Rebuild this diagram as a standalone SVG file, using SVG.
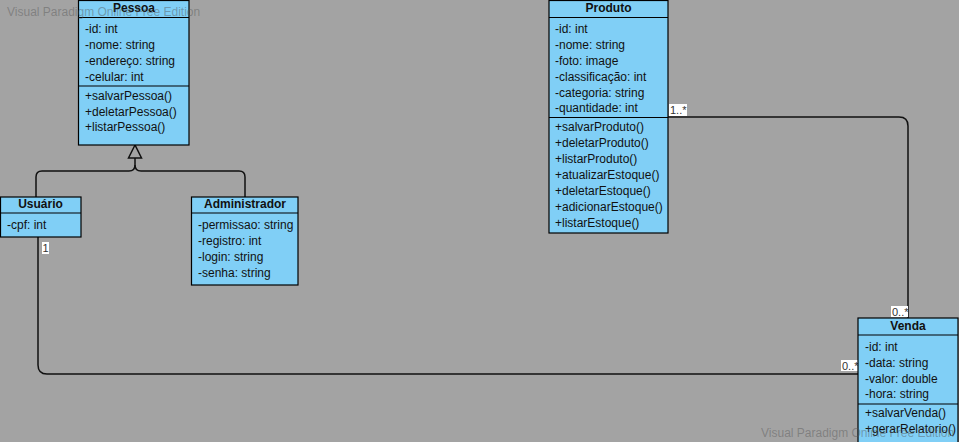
<svg xmlns="http://www.w3.org/2000/svg" width="959" height="442" viewBox="0 0 959 442">
<style>
.box{fill:#80cff6;stroke:#000;stroke-width:1.2}
.sep{stroke:#000;stroke-width:1.2}
text{font-family:"Liberation Sans",Arial,sans-serif;font-size:12px;fill:#111}
.t{font-weight:bold;text-anchor:middle}
.conn{fill:none;stroke:#111;stroke-width:1.5}
.lblbg{fill:#fff}
.lbl{font-size:11px;fill:#333}
.wm{font-size:12px;fill:#555;fill-opacity:0.45}
</style>
<rect width="959" height="442" fill="#a3a3a3"/>
<g id="connectors">
<path class="conn" d="M36,197 V177 Q36,171 42,171 H129 Q135,171 135,165 V158"/>
<path class="conn" d="M245,197 V177 Q245,171 239,171 H141 Q135,171 135,165"/>
<polygon points="135,145 128.5,158 141.5,158" fill="none" stroke="#111" stroke-width="1.5"/>
<path class="conn" d="M38,237 V365 Q38,374 47,374 H858"/>
<path class="conn" d="M668,117 H899 Q908,117 908,126 V318"/>
<rect class="lblbg" x="669" y="104" width="18" height="12"/>
<text class="lbl" x="670" y="114">1..*</text>
<rect class="lblbg" x="42" y="242" width="7" height="12"/>
<text class="lbl" x="42.5" y="252">1</text>
<rect class="lblbg" x="891" y="306" width="17" height="11"/>
<text class="lbl" x="892" y="316">0..*</text>
<rect class="lblbg" x="841" y="360" width="17" height="11"/>
<text class="lbl" x="842" y="370">0..*</text>
</g>
<g id="Pessoa">
<rect class="box" x="78.5" y="0.5" width="110.5" height="144.5"/>
<line class="sep" x1="78.5" y1="17.5" x2="189" y2="17.5"/>
<line class="sep" x1="78.5" y1="86" x2="189" y2="86"/>
<text class="t" x="134" y="12">Pessoa</text>
<text x="85" y="33">-id: int</text>
<text x="85" y="49">-nome: string</text>
<text x="85" y="65">-endereço: string</text>
<text x="85" y="81">-celular: int</text>
<text x="85" y="100">+salvarPessoa()</text>
<text x="85" y="116">+deletarPessoa()</text>
<text x="85" y="131">+listarPessoa()</text>
</g>
<g id="Usuario">
<rect class="box" x="0.5" y="197" width="80.5" height="40"/>
<line class="sep" x1="0.5" y1="213" x2="81" y2="213"/>
<text class="t" x="40.5" y="208">Usuário</text>
<text x="7" y="229">-cpf: int</text>
</g>
<g id="Administrador">
<rect class="box" x="191.5" y="197" width="106.5" height="88"/>
<line class="sep" x1="191.5" y1="213" x2="298" y2="213"/>
<text class="t" x="245" y="208">Administrador</text>
<text x="198" y="229">-permissao: string</text>
<text x="198" y="245">-registro: int</text>
<text x="198" y="261">-login: string</text>
<text x="198" y="277">-senha: string</text>
</g>
<g id="Produto">
<rect class="box" x="549" y="0.5" width="119" height="232.5"/>
<line class="sep" x1="549" y1="17.5" x2="668" y2="17.5"/>
<line class="sep" x1="549" y1="117.5" x2="668" y2="117.5"/>
<text class="t" x="608.5" y="12">Produto</text>
<text x="555" y="33">-id: int</text>
<text x="555" y="49">-nome: string</text>
<text x="555" y="65">-foto: image</text>
<text x="555" y="81">-classificação: int</text>
<text x="555" y="97">-categoria: string</text>
<text x="555" y="112">-quantidade: int</text>
<text x="555" y="131">+salvarProduto()</text>
<text x="555" y="147">+deletarProduto()</text>
<text x="555" y="163">+listarProduto()</text>
<text x="555" y="179">+atualizarEstoque()</text>
<text x="555" y="195">+deletarEstoque()</text>
<text x="555" y="211">+adicionarEstoque()</text>
<text x="555" y="227">+listarEstoque()</text>
</g>
<g id="Venda">
<rect class="box" x="858" y="318" width="100" height="126"/>
<line class="sep" x1="858" y1="335" x2="958" y2="335"/>
<line class="sep" x1="858" y1="404" x2="958" y2="404"/>
<text class="t" x="908" y="330">Venda</text>
<text x="865" y="351">-id: int</text>
<text x="865" y="367">-data: string</text>
<text x="865" y="383">-valor: double</text>
<text x="865" y="398">-hora: string</text>
<text x="865" y="417">+salvarVenda()</text>
<text x="865" y="433">+gerarRelatorio()</text>
</g>
<text class="wm" x="7" y="16">Visual Paradigm Online Free Edition</text>
<text class="wm" x="761" y="437">Visual Paradigm Online Free Edition</text>
</svg>
